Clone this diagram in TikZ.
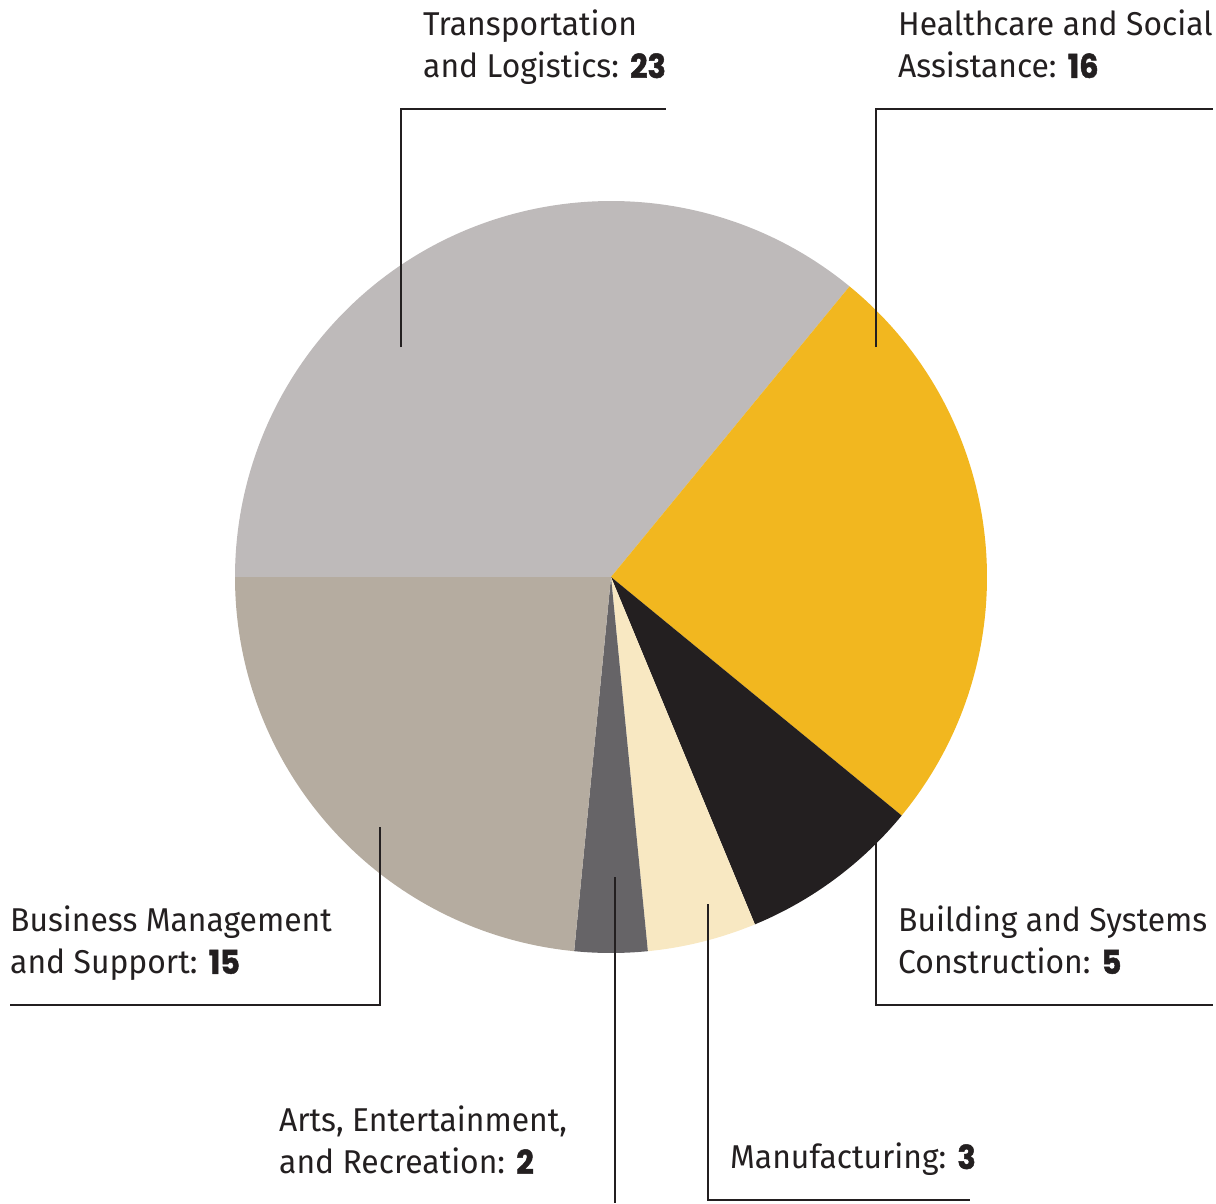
\documentclass[tikz,border=0pt]{standalone}
\usepackage{fontspec}
\setmainfont{Fira Sans}[FakeStretch=0.965]
\newfontfamily\numfont{Poppins}[FakeStretch=0.92,FakeBold=1.5]
\definecolor{ink}{HTML}{231F20}
\definecolor{ctrans}{HTML}{BEBABA}
\definecolor{chealth}{HTML}{F2B71F}
\definecolor{cbuild}{HTML}{231F20}
\definecolor{cmanu}{HTML}{F8E8C2}
\definecolor{carts}{HTML}{666467}
\definecolor{cbiz}{HTML}{B5ACA0}
\newcommand{\num}[1]{{\numfont\bfseries #1}}
\begin{document}
\begin{tikzpicture}[x=1pt,y=1pt,
  lbl/.style={anchor=north west,inner sep=0pt,align=left,text=ink,
    font=\fontsize{33}{42}\selectfont},
  leader/.style={draw=ink,line width=2pt}]
\useasboundingbox (0,0) rectangle (1216,-1203);
\coordinate (C) at (611,-577);
\def\R{376}
\fill[ctrans]  (C) -- ++(50.625:\R) arc[start angle=50.625,end angle=180,radius=\R] -- cycle;
\fill[chealth] (C) -- ++(-39.375:\R) arc[start angle=-39.375,end angle=50.625,radius=\R] -- cycle;
\fill[cbuild]  (C) -- ++(-67.5:\R) arc[start angle=-67.5,end angle=-39.375,radius=\R] -- cycle;
\fill[cmanu]   (C) -- ++(-84.375:\R) arc[start angle=-84.375,end angle=-67.5,radius=\R] -- cycle;
\fill[carts]   (C) -- ++(-95.625:\R) arc[start angle=-95.625,end angle=-84.375,radius=\R] -- cycle;
\fill[cbiz]    (C) -- ++(-180:\R) arc[start angle=-180,end angle=-95.625,radius=\R] -- cycle;

% labels
\node[lbl] (ltrans) at (423,-10) {Transportation\\and Logistics: \num{23}};
\node[lbl] (lhealth) at (898,-10) {Healthcare and Social\\Assistance: \num{16}};
\node[lbl] (lbiz) at (10,-906) {Business Management\\and Support: \num{15}};
\node[lbl] (larts) at (279,-1106) {Arts, Entertainment,\\and Recreation: \num{2}};
\node[lbl] (lmanu) at (730,-1143) {Manufacturing: \num{3}};
\node[lbl] (lbuild) at (898,-906) {Building and Systems\\Construction: \num{5}};

% leader lines
\coordinate (ptrans) at (401,-347);
\coordinate (phealth) at (876,-347);
\coordinate (pbiz) at (380,-827);
\coordinate (parts) at (615,-877);
\coordinate (pmanu) at (708,-904);
\coordinate (pbuild) at (876,-843);
\coordinate (etrans) at (666,-109);
\coordinate (ehealth) at (1213,-109);
\coordinate (ebiz) at (10,-1005);
\coordinate (earts) at (615,-1203);
\coordinate (emanu) at (970,-1200);
\coordinate (ebuild) at (1213,-1005);
\draw[leader] (ptrans) |- (etrans);
\draw[leader] (phealth) |- (ehealth);
\draw[leader] (pbiz) |- (ebiz);
\draw[leader] (parts) -- (earts);
\draw[leader] (pmanu) |- (emanu);
\draw[leader] (pbuild) |- (ebuild);
\end{tikzpicture}
\end{document}
